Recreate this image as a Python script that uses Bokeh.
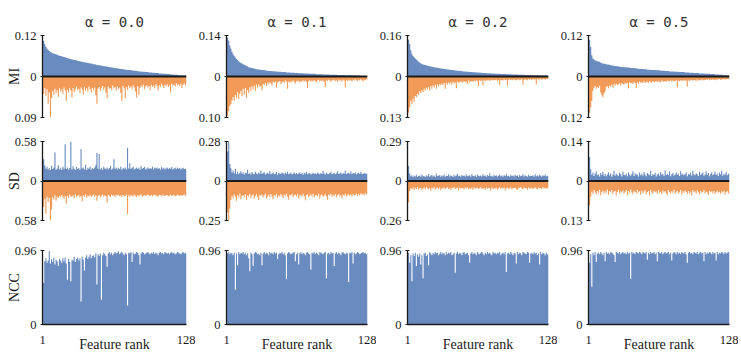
import numpy as np
from bokeh.plotting import figure
from bokeh.layouts import gridplot
from bokeh.models import FixedTicker, Span, Range1d
from bokeh.embed import file_html
from bokeh.resources import INLINE

ALPHA_LABELS = ["0.0", "0.1", "0.2", "0.5"]
ROW_LABELS = ["MI", "SD", "NCC"]
N_FEATURES = 128
NCC_TOP = 0.96

# Per-feature scores, in thousandths, features ordered by rank.
# MI: blue = positive side, orange = negative side (magnitudes)
MI_POS_A00 = [
    120, 105, 95, 88, 82, 78, 75, 72, 70, 68, 67, 66, 65, 63, 62, 61,
    60, 59, 58, 57, 56, 55, 54, 53, 52, 51, 50, 49, 48, 48, 47, 46,
    45, 45, 44, 43, 42, 42, 41, 40, 40, 39, 38, 38, 37, 36, 36, 35,
    34, 34, 33, 32, 32, 31, 30, 30, 29, 29, 28, 27, 27, 26, 26, 25,
    25, 24, 24, 23, 23, 22, 22, 21, 21, 20, 20, 19, 19, 19, 18, 18,
    17, 17, 17, 16, 16, 15, 15, 15, 14, 14, 14, 13, 13, 13, 12, 12,
    12, 11, 11, 11, 10, 10, 10, 9, 9, 9, 8, 8, 8, 8, 7, 7,
    7, 6, 6, 6, 5, 5, 5, 5, 4, 4, 4, 3, 3, 3, 2, 2]
MI_NEG_A00 = [
    30, 38, 25, 42, 28, 60, 35, 90, 48, 32, 40, 27, 36, 30, 45, 26,
    33, 28, 38, 24, 30, 53, 29, 35, 26, 31, 46, 25, 34, 28, 22, 30,
    27, 36, 24, 29, 40, 23, 31, 26, 33, 22, 28, 35, 25, 30, 24, 41,
    60, 27, 23, 32, 26, 21, 29, 24, 35, 48, 22, 27, 25, 30, 20, 26,
    23, 31, 22, 28, 24, 36, 53, 21, 26, 47, 23, 29, 20, 25, 22, 27,
    19, 24, 33, 46, 21, 40, 25, 20, 23, 18, 28, 22, 19, 24, 21, 30,
    18, 23, 20, 26, 17, 21, 31, 19, 22, 16, 20, 25, 18, 21, 17, 23,
    19, 35, 16, 20, 18, 22, 15, 19, 17, 21, 16, 25, 18, 15, 20, 17]
MI_POS_A01 = [
    140, 132, 123, 106, 95, 84, 76, 70, 65, 60, 56, 52, 49, 46, 44, 42,
    40, 38, 36, 34, 32, 31, 30, 29, 28, 27, 26, 25, 25, 24, 23, 23,
    22, 22, 21, 21, 20, 20, 19, 19, 19, 18, 18, 18, 17, 17, 17, 16,
    16, 16, 15, 15, 15, 15, 14, 14, 14, 14, 13, 13, 13, 13, 12, 12,
    12, 11, 11, 11, 11, 11, 10, 10, 10, 10, 10, 9, 9, 9, 9, 9,
    9, 8, 8, 8, 8, 8, 8, 7, 7, 7, 7, 7, 7, 6, 6, 6,
    6, 6, 6, 6, 5, 5, 5, 5, 5, 5, 5, 4, 4, 4, 4, 4,
    4, 4, 3, 3, 3, 3, 3, 3, 3, 2, 2, 2, 2, 2, 2, 2]
MI_NEG_A01 = [
    100, 96, 84, 72, 67, 58, 50, 59, 45, 52, 38, 55, 42, 35, 48, 30,
    44, 28, 52, 33, 40, 26, 36, 24, 31, 22, 35, 20, 27, 19, 25, 23,
    34, 18, 21, 16, 24, 15, 19, 14, 17, 22, 13, 16, 12, 27, 15, 13,
    11, 18, 14, 12, 16, 10, 13, 30, 12, 15, 11, 14, 10, 13, 17, 11,
    12, 10, 15, 11, 13, 9, 12, 10, 14, 28, 11, 9, 13, 10, 12, 9,
    11, 14, 10, 8, 12, 9, 11, 10, 13, 26, 9, 11, 8, 10, 12, 9,
    10, 8, 11, 9, 13, 8, 10, 9, 12, 8, 10, 27, 9, 11, 8, 10,
    9, 12, 8, 10, 7, 9, 11, 8, 10, 7, 9, 12, 8, 9, 7, 10]
MI_POS_A02 = [
    160, 143, 127, 102, 88, 80, 75, 70, 66, 62, 58, 55, 52, 49, 47, 46,
    45, 44, 42, 41, 40, 39, 38, 37, 36, 35, 35, 34, 33, 32, 31, 31,
    30, 29, 29, 28, 27, 27, 26, 26, 25, 25, 24, 23, 23, 22, 22, 22,
    21, 21, 20, 20, 20, 19, 19, 19, 18, 18, 18, 17, 17, 17, 16, 16,
    16, 15, 15, 15, 14, 14, 14, 13, 13, 13, 13, 12, 12, 12, 12, 11,
    11, 11, 11, 11, 10, 10, 10, 10, 10, 9, 9, 9, 9, 9, 8, 8,
    8, 8, 8, 8, 7, 7, 7, 7, 7, 7, 6, 6, 6, 6, 6, 6,
    5, 5, 5, 5, 5, 5, 5, 4, 4, 4, 4, 4, 4, 4, 3, 3]
MI_NEG_A02 = [
    130, 114, 98, 77, 87, 70, 80, 62, 66, 55, 58, 47, 52, 43, 49, 38,
    45, 36, 40, 33, 44, 30, 38, 28, 35, 26, 39, 25, 31, 24, 28, 22,
    27, 21, 40, 20, 25, 19, 23, 18, 26, 17, 22, 19, 37, 16, 21, 18,
    15, 20, 17, 14, 19, 16, 24, 13, 18, 15, 14, 17, 13, 16, 12, 15,
    30, 12, 14, 13, 28, 11, 15, 12, 13, 11, 14, 12, 10, 13, 11, 12,
    10, 14, 11, 27, 10, 12, 13, 9, 11, 10, 29, 12, 9, 11, 10, 12,
    9, 11, 13, 10, 9, 12, 10, 8, 26, 11, 9, 10, 12, 8, 10, 9,
    11, 8, 10, 9, 25, 8, 10, 9, 7, 11, 8, 9, 10, 7, 9, 8]
MI_POS_A05 = [
    120, 107, 86, 62, 53, 50, 47, 46, 45, 44, 43, 41, 39, 38, 37, 37,
    36, 35, 35, 34, 33, 32, 32, 31, 31, 30, 30, 29, 29, 28, 28, 28,
    27, 27, 27, 26, 26, 26, 25, 25, 25, 24, 24, 24, 23, 23, 22, 22,
    22, 22, 21, 21, 21, 20, 20, 20, 20, 19, 19, 19, 19, 18, 18, 18,
    18, 17, 17, 17, 17, 16, 16, 16, 16, 15, 15, 15, 15, 15, 14, 14,
    14, 14, 13, 13, 13, 13, 13, 12, 12, 12, 12, 11, 11, 11, 11, 10,
    10, 10, 10, 10, 9, 9, 9, 9, 9, 8, 8, 8, 8, 8, 7, 7,
    7, 7, 6, 6, 6, 6, 5, 5, 5, 5, 4, 4, 4, 3, 3, 3]
MI_NEG_A05 = [
    120, 106, 91, 72, 42, 33, 28, 36, 30, 34, 27, 47, 55, 61, 50, 44,
    31, 28, 35, 26, 30, 24, 32, 22, 27, 21, 25, 23, 20, 26, 19, 22,
    24, 18, 21, 19, 35, 17, 20, 18, 22, 16, 19, 33, 17, 21, 15, 18,
    16, 20, 14, 18, 17, 15, 19, 14, 16, 18, 13, 17, 15, 14, 16, 13,
    15, 17, 12, 14, 16, 13, 15, 12, 14, 13, 11, 15, 12, 13, 14, 11,
    32, 12, 14, 11, 13, 12, 10, 14, 11, 30, 12, 13, 10, 11, 12, 10,
    11, 13, 9, 12, 10, 11, 9, 12, 10, 11, 9, 10, 8, 11, 9, 10,
    8, 10, 9, 11, 8, 9, 7, 10, 8, 9, 7, 8, 9, 7, 8, 6]

# SD: blue = positive side, orange = negative side (magnitudes)
SD_POS_A00 = [
    350, 320, 230, 180, 210, 170, 190, 160, 220, 175, 200, 420, 165, 185, 230, 170,
    195, 160, 210, 180, 540, 175, 200, 165, 190, 580, 170, 215, 180, 160, 205, 175,
    190, 165, 470, 185, 200, 170, 240, 160, 195, 180, 210, 165, 190, 175, 200, 230,
    410, 180, 395, 170, 195, 165, 210, 185, 175, 200, 170, 190, 220, 165, 185, 320,
    180, 200, 170, 195, 175, 210, 165, 190, 180, 200, 170, 490, 185, 260, 175, 195,
    210, 170, 185, 200, 175, 195, 165, 215, 180, 190, 205, 170, 185, 200, 175, 190,
    180, 210, 170, 195, 185, 200, 175, 190, 165, 205, 180, 195, 170, 185, 200, 175,
    190, 180, 205, 170, 185, 195, 175, 200, 180, 190, 170, 185, 195, 175, 180, 170]
SD_NEG_A00 = [
    330, 380, 260, 480, 230, 310, 250, 580, 420, 240, 270, 210, 290, 230, 250, 215,
    240, 205, 230, 260, 220, 330, 215, 245, 200, 235, 225, 210, 250, 195, 230, 215,
    205, 240, 220, 300, 210, 230, 200, 245, 215, 225, 205, 235, 215, 200, 230, 210,
    290, 220, 205, 240, 215, 200, 230, 210, 225, 320, 205, 215, 235, 200, 220, 210,
    230, 205, 215, 200, 225, 210, 240, 205, 215, 220, 200, 490, 210, 230, 205, 215,
    225, 200, 215, 235, 205, 220, 210, 200, 230, 215, 205, 225, 210, 200, 220, 215,
    205, 225, 210, 200, 220, 215, 230, 205, 210, 225, 200, 215, 220, 205, 210, 225,
    215, 200, 220, 210, 205, 225, 215, 200, 210, 220, 205, 215, 210, 200, 220, 210]
SD_POS_A01 = [
    170, 210, 280, 120, 90, 60, 75, 55, 85, 50, 65, 48, 58, 70, 52, 62,
    45, 60, 55, 80, 50, 57, 46, 63, 52, 48, 66, 54, 47, 59, 51, 75,
    49, 56, 62, 46, 53, 58, 50, 71, 47, 55, 60, 48, 52, 64, 45, 57,
    53, 49, 61, 55, 47, 58, 52, 66, 48, 54, 59, 46, 51, 62, 50, 56,
    47, 53, 60, 49, 55, 45, 58, 51, 63, 48, 54, 57, 46, 52, 59, 50,
    55, 48, 61, 53, 47, 57, 50, 72, 54, 46, 60, 52, 49, 56, 65, 48,
    53, 58, 47, 55, 69, 50, 54, 61, 48, 57, 52, 74, 49, 55, 59, 51,
    67, 48, 56, 53, 60, 47, 54, 58, 50, 63, 52, 49, 57, 54, 51, 55]
SD_NEG_A01 = [
    150, 200, 250, 175, 120, 95, 110, 85, 100, 125, 90, 105, 80, 115, 95, 88,
    102, 84, 118, 92, 98, 80, 108, 90, 86, 112, 95, 82, 100, 120, 88, 94,
    85, 104, 91, 80, 110, 96, 87, 102, 83, 97, 115, 89, 93, 81, 106, 90,
    98, 84, 92, 108, 86, 95, 80, 100, 118, 88, 94, 82, 103, 90, 86, 97,
    83, 110, 92, 87, 99, 81, 95, 122, 89, 84, 101, 93, 86, 98, 82, 105,
    91, 88, 96, 80, 112, 90, 85, 100, 94, 83, 97, 118, 86, 92, 81, 99,
    87, 95, 84, 103, 90, 82, 96, 88, 110, 85, 93, 80, 98, 89, 84, 94,
    86, 100, 82, 91, 88, 79, 95, 84, 90, 77, 86, 81, 92, 78, 85, 80]
SD_POS_A02 = [
    290, 110, 55, 35, 42, 30, 38, 33, 45, 29, 36, 40, 31, 48, 34, 37,
    30, 43, 35, 52, 32, 39, 46, 33, 41, 30, 55, 36, 38, 44, 31, 40,
    34, 47, 32, 39, 36, 50, 33, 42, 37, 30, 45, 35, 41, 53, 34, 38,
    31, 44, 36, 40, 33, 48, 35, 39, 42, 32, 51, 37, 34, 43, 30, 46,
    38, 35, 41, 33, 49, 36, 40, 32, 44, 37, 56, 34, 39, 31, 45, 36,
    42, 33, 38, 47, 35, 40, 31, 43, 36, 52, 34, 39, 32, 45, 37, 41,
    33, 48, 36, 40, 30, 44, 35, 38, 50, 33, 42, 36, 31, 46, 34, 39,
    37, 43, 32, 49, 35, 40, 33, 45, 38, 31, 42, 36, 47, 34, 39, 35]
SD_NEG_A02 = [
    260, 140, 65, 48, 55, 42, 60, 45, 52, 40, 58, 47, 44, 62, 50, 43,
    56, 41, 49, 53, 46, 66, 44, 51, 39, 57, 48, 45, 54, 42, 61, 47,
    50, 43, 55, 46, 41, 52, 48, 59, 44, 50, 40, 53, 47, 45, 63, 42,
    51, 46, 48, 56, 43, 49, 41, 54, 47, 52, 45, 60, 42, 50, 48, 44,
    53, 47, 41, 55, 49, 46, 58, 43, 51, 45, 48, 64, 42, 52, 47, 50,
    44, 57, 48, 41, 53, 46, 50, 43, 62, 47, 45, 51, 49, 42, 55, 46,
    48, 44, 52, 59, 45, 47, 41, 50, 54, 43, 49, 46, 57, 42, 51, 48,
    45, 53, 47, 43, 50, 56, 44, 48, 46, 52, 41, 49, 45, 51, 47, 44]
SD_POS_A05 = [
    140, 85, 42, 22, 30, 18, 26, 35, 20, 24, 16, 28, 21, 33, 19, 25,
    17, 23, 31, 20, 27, 15, 22, 36, 19, 26, 21, 18, 29, 24, 16, 34,
    22, 20, 27, 17, 31, 23, 19, 25, 35, 18, 28, 21, 24, 16, 30, 20,
    26, 19, 33, 22, 17, 28, 24, 20, 36, 18, 25, 21, 29, 16, 23, 27,
    19, 32, 22, 25, 18, 37, 21, 26, 20, 34, 17, 24, 28, 19, 23, 30,
    21, 26, 18, 35, 22, 27, 20, 24, 31, 17, 25, 22, 29, 19, 36, 23,
    20, 27, 24, 18, 33, 21, 26, 30, 19, 23, 35, 22, 28, 17, 25, 31,
    20, 24, 34, 21, 27, 18, 29, 23, 36, 19, 26, 22, 32, 20, 25, 28]
SD_NEG_A05 = [
    130, 80, 52, 35, 42, 30, 38, 44, 33, 40, 29, 47, 36, 31, 41, 34,
    39, 28, 45, 33, 37, 30, 43, 35, 32, 48, 36, 29, 40, 34, 38, 31,
    42, 35, 30, 46, 33, 39, 28, 37, 44, 32, 36, 41, 29, 38, 34, 45,
    31, 40, 35, 30, 43, 36, 33, 47, 29, 38, 41, 32, 37, 34, 42, 30,
    39, 35, 44, 31, 37, 33, 40, 46, 30, 36, 42, 34, 38, 29, 43, 35,
    32, 41, 37, 30, 45, 34, 39, 31, 36, 43, 33, 40, 35, 48, 30, 38,
    34, 42, 31, 37, 44, 33, 39, 36, 30, 41, 35, 38, 46, 32, 37, 34,
    40, 33, 43, 36, 31, 39, 35, 42, 34, 38, 32, 45, 36, 33, 41, 37]

# NCC per feature
NCC_A00 = [
    840, 540, 820, 860, 800, 830, 950, 790, 850, 810, 870, 780, 840, 820, 760, 850,
    830, 800, 860, 820, 870, 790, 580, 850, 810, 560, 840, 830, 880, 810, 850, 870,
    830, 860, 300, 880, 840, 700, 870, 900, 850, 880, 910, 860, 890, 900, 870, 920,
    520, 910, 890, 920, 320, 900, 930, 910, 890, 750, 920, 940, 910, 930, 900, 920,
    940, 920, 930, 950, 910, 930, 940, 920, 900, 930, 910, 245, 930, 920, 940, 810,
    930, 910, 920, 940, 930, 900, 780, 920, 940, 930, 910, 920, 930, 940, 920, 910,
    930, 920, 940, 910, 930, 920, 900, 930, 940, 920, 930, 910, 940, 930, 920, 930,
    910, 930, 940, 920, 930, 910, 920, 940, 930, 920, 910, 930, 940, 920, 930, 910]
NCC_A01 = [
    930, 920, 940, 910, 930, 920, 900, 930, 450, 920, 770, 940, 910, 930, 920, 940,
    910, 930, 900, 920, 860, 690, 930, 910, 760, 920, 940, 930, 910, 920, 900, 930,
    770, 920, 940, 910, 930, 920, 900, 940, 920, 930, 910, 940, 920, 930, 850, 910,
    930, 920, 940, 910, 930, 900, 590, 920, 940, 930, 910, 920, 930, 940, 820, 910,
    930, 780, 920, 940, 910, 930, 920, 900, 930, 940, 920, 910, 710, 930, 920, 940,
    910, 930, 920, 900, 940, 930, 920, 910, 930, 940, 600, 920, 930, 910, 940, 920,
    930, 760, 920, 940, 910, 930, 920, 900, 930, 940, 920, 910, 930, 920, 550, 930,
    920, 940, 790, 930, 910, 920, 940, 930, 910, 920, 930, 940, 920, 930, 910, 920]
NCC_A02 = [
    910, 930, 800, 900, 560, 920, 890, 930, 760, 910, 880, 920, 780, 900, 600, 920,
    930, 890, 910, 770, 940, 920, 900, 930, 910, 940, 920, 930, 900, 920, 940, 910,
    930, 920, 900, 940, 910, 930, 920, 940, 900, 910, 930, 670, 920, 940, 910, 930,
    920, 900, 930, 940, 910, 920, 930, 900, 800, 920, 940, 910, 930, 920, 900, 940,
    920, 910, 930, 940, 920, 900, 930, 910, 940, 920, 930, 910, 900, 940, 920, 930,
    910, 930, 920, 940, 900, 920, 930, 910, 940, 680, 920, 930, 910, 940, 920, 900,
    930, 920, 790, 940, 910, 930, 920, 900, 940, 930, 920, 910, 940, 930, 800, 920,
    930, 910, 940, 920, 930, 900, 920, 780, 940, 910, 930, 920, 900, 930, 910, 900]
NCC_A05 = [
    920, 800, 910, 490, 930, 900, 940, 810, 920, 930, 910, 940, 920, 900, 930, 820,
    940, 920, 930, 910, 940, 930, 920, 900, 810, 940, 930, 920, 940, 910, 930, 940,
    920, 930, 910, 940, 920, 930, 590, 940, 920, 930, 910, 940, 930, 920, 940, 930,
    910, 940, 930, 920, 940, 840, 930, 910, 940, 920, 930, 940, 910, 930, 820, 940,
    930, 920, 940, 910, 930, 940, 920, 930, 940, 910, 930, 830, 920, 940, 930, 910,
    940, 920, 930, 910, 940, 930, 920, 940, 910, 800, 930, 940, 920, 930, 910, 940,
    930, 920, 940, 910, 930, 940, 920, 930, 820, 940, 910, 930, 920, 940, 930, 910,
    940, 920, 930, 830, 940, 910, 930, 920, 940, 930, 910, 940, 920, 930, 940, 920]

MI_POS = [MI_POS_A00, MI_POS_A01, MI_POS_A02, MI_POS_A05]
MI_NEG = [MI_NEG_A00, MI_NEG_A01, MI_NEG_A02, MI_NEG_A05]
SD_POS = [SD_POS_A00, SD_POS_A01, SD_POS_A02, SD_POS_A05]
SD_NEG = [SD_NEG_A00, SD_NEG_A01, SD_NEG_A02, SD_NEG_A05]
NCC = [NCC_A00, NCC_A01, NCC_A02, NCC_A05]

BLUE = "#6a8bbf"
ORANGE = "#f29b58"
INK = "#1a1a1a"
SERIF = "Liberation Serif"

rank = np.arange(1, N_FEATURES + 1)

FRAME_W = 144
ROW_SPECS = [  # (figure height, top border, bottom border)
    (129, 35, 12),
    (102, 12, 11),
    (123, 19, 30),
]


def to_units(vals):
    arr = np.asarray(vals, dtype=float) / 1000.0
    assert arr.size == N_FEATURES
    return arr


def make_panel(row, col):
    height, top, bottom = ROW_SPECS[row]
    left = 42 if col == 0 else 28
    right = 9
    p = figure(width=left + FRAME_W + right, height=height,
               output_backend="svg", toolbar_location=None,
               x_range=Range1d(1, N_FEATURES),
               x_axis_location="below" if row == 2 else None,
               min_border_left=left, min_border_right=right,
               min_border_top=top, min_border_bottom=bottom)
    p.outline_line_color = None
    p.grid.visible = False
    p.background_fill_color = "white"
    p.border_fill_color = "white"

    ya = p.yaxis[0]
    ya.axis_line_color = INK
    ya.axis_line_width = 1.3
    ya.major_tick_line_color = INK
    ya.major_tick_in = 2
    ya.major_tick_out = 2
    ya.minor_tick_line_color = None
    ya.major_label_text_font = SERIF
    ya.major_label_text_font_size = "12.5px"
    ya.major_label_text_color = INK
    ya.major_label_standoff = 4
    if col == 0:
        ya.axis_label = ROW_LABELS[row]
        ya.axis_label_text_font = SERIF
        ya.axis_label_text_font_size = "14px"
        ya.axis_label_text_font_style = "normal"
        ya.axis_label_text_color = INK
        ya.axis_label_standoff = -10

    if row == 0:
        p.title.text = f"α = {ALPHA_LABELS[col]}"
        p.title.align = "center"
        p.title.text_font = "DejaVu Sans Mono"
        p.title.text_font_size = "14px"
        p.title.text_font_style = "normal"
        p.title.text_color = "#333333"
        p.title.standoff = 12
    return p


def bars(p, vals, color, sign=1.0):
    # one filled step area: a bar per rank, without seams between neighbours
    p.varea_step(x=rank, y1=0, y2=sign * vals, step_mode="center",
                 fill_color=color)


def bipolar(p, pos_vals, neg_vals):
    pos = to_units(pos_vals)
    neg = to_units(neg_vals)
    pmax, nmax = pos.max(), neg.max()
    # each side is scaled to its own maximum
    bars(p, pos / pmax, BLUE)
    bars(p, neg / nmax, ORANGE, -1.0)
    p.y_range = Range1d(-1, 1)
    p.yaxis.ticker = FixedTicker(ticks=[-1, 0, 1])
    p.yaxis.major_label_overrides = {1: f"{pmax:.2f}", 0: "0", -1: f"{nmax:.2f}"}
    p.add_layout(Span(location=0, dimension="width",
                      line_color=INK, line_width=1.8))


def ncc_panel(p, vals):
    v = to_units(vals)
    bars(p, v, BLUE)
    p.y_range = Range1d(0, NCC_TOP)
    p.yaxis.ticker = FixedTicker(ticks=[0, NCC_TOP])
    p.yaxis.major_label_overrides = {0: "0", NCC_TOP: f"{NCC_TOP:.2f}"}
    xa = p.xaxis[0]
    xa.ticker = FixedTicker(ticks=[1, N_FEATURES])
    xa.axis_line_color = INK
    xa.axis_line_width = 1.6
    xa.major_tick_line_color = None
    xa.major_tick_in = 0
    xa.major_tick_out = 0
    xa.minor_tick_line_color = None
    xa.minor_tick_in = 0
    xa.minor_tick_out = 0
    xa.major_label_text_font = SERIF
    xa.major_label_text_font_size = "12.5px"
    xa.major_label_text_color = INK
    xa.major_label_standoff = 11
    xa.axis_label = "Feature rank"
    xa.axis_label_text_font = SERIF
    xa.axis_label_text_font_size = "14px"
    xa.axis_label_text_font_style = "normal"
    xa.axis_label_text_color = INK
    xa.axis_label_standoff = -10


rows = []
for r in range(3):
    row_figs = []
    for c in range(4):
        p = make_panel(r, c)
        if r == 0:
            bipolar(p, MI_POS[c], MI_NEG[c])
        elif r == 1:
            bipolar(p, SD_POS[c], SD_NEG[c])
        else:
            ncc_panel(p, NCC[c])
        row_figs.append(p)
    rows.append(row_figs)

grid = gridplot(rows, toolbar_location=None)

with open("out.html", "w") as f:
    f.write(file_html(grid, INLINE))
